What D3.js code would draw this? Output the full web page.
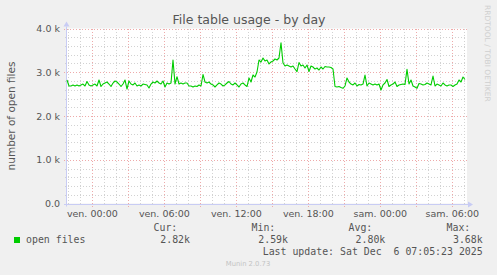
<!DOCTYPE html>
<html><head><meta charset="utf-8">
<script src="https://cdn.jsdelivr.net/npm/d3@7"></script>
<style>
body{margin:0;background:#f0f0f0}
svg{display:block}
text{font-family:"DejaVu Sans",sans-serif}
.mono{font-family:"DejaVu Sans Mono",monospace;white-space:pre}
</style>
</head><body>
<svg id="c" width="497" height="275"></svg>
<script>
const title = "File table usage - by day";
const yLabel = "number of open files";
const seriesName = "open files";
const sampleStart = new Date(2025, 11, 4, 21, 53, 20);
const sampleStepMin = 10;
const domainStart = new Date(2025, 11, 4, 21, 53, 20);
const domainEnd = new Date(2025, 11, 6, 7, 13, 20);
const openFiles = [
 2823,2686,2686,2709,2686,2709,2686,2709,2731,2686,
 2789,2709,2686,2709,2731,2686,2823,2674,2731,2754,
 2777,2731,2674,2754,2800,2777,2731,2674,2731,2823,
 2617,2800,2731,2709,2754,2686,2709,2686,2731,2720,
 2709,2640,2731,2777,2754,2800,2754,2731,2800,2663,
 2754,2731,2754,3280,2731,2898,2731,2754,2731,2754,
 2754,2686,2686,2663,2686,2674,2709,2686,2949,2777,
 2754,2777,2731,2709,2663,2709,2754,2731,2686,2709,
 2754,2789,2731,2709,2754,2709,2663,2731,2754,2709,
 2674,2869,2777,2937,2891,3006,3280,3234,3326,3257,
 3280,3189,3234,3257,3303,3280,3326,3675,3211,3143,
 3166,3143,3120,3143,3074,3013,3223,3143,3166,3097,
 3166,3017,3143,3120,3074,3097,3051,3120,3074,3131,
 3120,3120,3109,3074,2674,2663,2674,2651,2633,2686,
 2869,2777,2731,2709,2754,2686,2720,2709,2731,2937,
 2686,2754,2731,2709,2731,2709,2731,2594,2709,2754,
 2834,2674,2709,2731,2777,2674,2709,2720,2731,2720,
 3067,2731,2823,2686,2663,2633,2743,2731,2709,2720,
 2754,2731,2709,2914,2686,2731,2709,2686,2754,2709,
 2686,2709,2709,2674,2709,2731,2823,2777,2891,2834
];
const yMax = 4000;
const yTicks = [0, 1000, 2000, 3000, 4000];
const yTickLabels = ["0.0", "1.0 k", "2.0 k", "3.0 k", "4.0 k"];
const yMinorStep = 200;
const dayNames = ["dim.", "lun.", "mar.", "mer.", "jeu.", "ven.", "sam."];
const statHeads = ["Cur:", "Min:", "Avg:", "Max:"];
const statValues = ["2.82k", "2.59k", "2.80k", "3.68k"];
const lastUpdate = "Last update: Sat Dec  6 07:05:23 2025";
const footer = "Munin 2.0.73";
const watermark = "RRDTOOL / TOBI OETIKER";

const svg = d3.select("#c");
const L = 67, R = 467, T = 28.5, B = 203.5;
const x = d3.scaleTime().domain([domainStart, domainEnd]).range([L, R]);
const y = d3.scaleLinear().domain([0, yMax]).range([B, T]);
const px = v => Math.round(v) + 0.5;

svg.append("rect").attr("width", 497).attr("height", 275).attr("fill", "#f0f0f0");
svg.append("rect").attr("x", L).attr("y", T).attr("width", R - L).attr("height", B - T).attr("fill", "#ffffff");

const g = svg.append("g").attr("shape-rendering", "crispEdges");
const minorC = "#d2d2d2", majorC = "#eeaaaa", dash = "1,2";
// minor horizontal
d3.range(0, yMax + 1, yMinorStep).filter(v => v % 1000 !== 0).forEach(v => {
  g.append("line").attr("x1", L - 2).attr("x2", R).attr("y1", px(y(v))).attr("y2", px(y(v)))
   .attr("stroke", minorC).attr("stroke-dasharray", dash);
});
// minor vertical (hourly)
const hours = d3.timeHour.every(1).range(domainStart, domainEnd);
hours.filter(d => d.getHours() % 3 !== 0).forEach(d => {
  g.append("line").attr("x1", px(x(d))).attr("x2", px(x(d))).attr("y1", T).attr("y2", B + 2)
   .attr("stroke", minorC).attr("stroke-dasharray", dash);
});
// major vertical
hours.filter(d => d.getHours() % 3 === 0).forEach(d => {
  g.append("line").attr("x1", px(x(d))).attr("x2", px(x(d))).attr("y1", T).attr("y2", B + 3)
   .attr("stroke", majorC).attr("stroke-dasharray", dash);
});
// major horizontal
yTicks.forEach(v => {
  g.append("line").attr("x1", L - 3).attr("x2", R).attr("y1", px(y(v))).attr("y2", px(y(v)))
   .attr("stroke", majorC).attr("stroke-dasharray", dash);
});

// axes
const axc = "#c8ccf4";
svg.append("line").attr("x1", L - 3).attr("x2", R + 2).attr("y1", px(B)).attr("y2", px(B)).attr("stroke", axc);
svg.append("path").attr("d", `M${R + 6},${px(B)} L${R + 1},${px(B) - 3} L${R + 1},${px(B) + 3} Z`).attr("fill", axc);
svg.append("line").attr("x1", px(L) - 1).attr("x2", px(L) - 1).attr("y1", B + 3).attr("y2", T - 2).attr("stroke", axc);
svg.append("path").attr("d", `M${px(L) - 1},${T - 7} L${px(L) - 4},${T - 2} L${px(L) + 2},${T - 2} Z`).attr("fill", axc);

// data line
const data = openFiles.map((v, i) => ({ t: new Date(+sampleStart + i * sampleStepMin * 60000), v }));
svg.append("path").datum(data)
  .attr("d", d3.line().x(d => x(d.t)).y(d => y(d.v)))
  .attr("fill", "none").attr("stroke", "#00cc00").attr("stroke-width", 1.1).attr("stroke-linejoin", "round");

// y tick labels
yTicks.forEach((v, i) => {
  svg.append("text").attr("x", 60).attr("y", y(v) + 3.5).attr("text-anchor", "end")
    .attr("font-size", 9.5).attr("fill", "#555").text(yTickLabels[i]);
});
// x tick labels
hours.filter(d => d.getHours() % 6 === 0).forEach(d => {
  const lab = dayNames[d.getDay()] + " " + d3.timeFormat("%H:%M")(d);
  svg.append("text").attr("x", x(d)).attr("y", 216.5).attr("text-anchor", "middle")
    .attr("font-size", 9.5).attr("fill", "#555").text(lab);
});

// title
svg.append("text").attr("x", 249).attr("y", 24).attr("text-anchor", "middle")
  .attr("font-size", 12.5).attr("fill", "#555").text(title);
// y label
svg.append("text").attr("transform", "translate(15,116) rotate(-90)").attr("text-anchor", "middle")
  .attr("font-size", 10.5).attr("fill", "#555").text(yLabel);
// watermark
svg.append("text").attr("transform", "translate(485,5) rotate(90)")
  .attr("font-size", 7.5).attr("fill", "#cfcfcf").text(watermark);

// legend
svg.append("rect").attr("x", 14).attr("y", 237).attr("width", 6).attr("height", 6).attr("fill", "#00cc00");
svg.append("text").attr("class", "mono").attr("x", 26).attr("y", 243).attr("font-size", 9.9).attr("fill", "#555").text(seriesName);
const headX = [177.3, 275.3, 372.3, 470.3];
const valX = [190, 288, 385.3, 482.7];
statHeads.forEach((h, i) => {
  svg.append("text").attr("class", "mono").attr("x", headX[i]).attr("y", 231).attr("text-anchor", "end")
    .attr("font-size", 9.9).attr("fill", "#555").text(h);
  svg.append("text").attr("class", "mono").attr("x", valX[i]).attr("y", 243).attr("text-anchor", "end")
    .attr("font-size", 9.9).attr("fill", "#555").text(statValues[i]);
});
svg.append("text").attr("class", "mono").attr("x", 482.7).attr("y", 255).attr("text-anchor", "end")
  .attr("font-size", 9.9).attr("fill", "#555").text(lastUpdate);
svg.append("text").attr("x", 248).attr("y", 266).attr("text-anchor", "middle")
  .attr("font-size", 6.8).attr("fill", "#c4c4c4").text(footer);
</script>
</body></html>
